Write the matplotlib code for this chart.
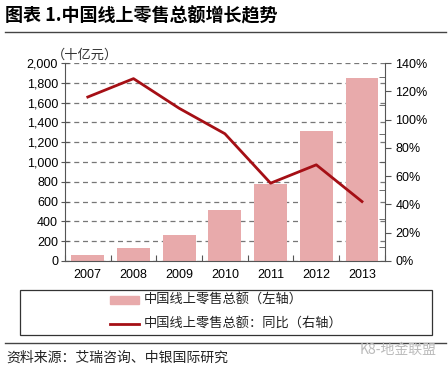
import matplotlib.pyplot as plt
from matplotlib.patches import Rectangle
from matplotlib.lines import Line2D

plt.rcParams['font.family'] = ['Noto Sans CJK SC', 'DejaVu Sans']

years = ['2007', '2008', '2009', '2010', '2011', '2012', '2013']
sales = [55, 130, 263, 510, 780, 1310, 1850]          # 十亿元
growth = [116, 129, 108, 90, 55, 68, 42]              # %

bar_color = '#E8AAAB'
line_color = '#A50F15'

fig = plt.figure(figsize=(4.48, 3.69), dpi=100)
ax = fig.add_axes([0.145, 0.293, 0.714, 0.536])
x = range(len(years))
ax.bar(x, sales, width=0.72, color=bar_color, zorder=2)
ax.set_ylim(0, 2000)
ax.set_xlim(-0.5, 6.5)
ax.set_yticks(range(0, 2001, 200))
ax.set_yticklabels([f'{v:,}' for v in range(0, 2001, 200)], fontsize=9, family='Liberation Sans')
ax.set_xticks([i - 0.5 for i in range(8)], minor=False)
ax.set_xticklabels([])
ax.set_xticks(list(x), minor=True)
ax.set_xticklabels(years, minor=True, fontsize=9, family='Liberation Sans')
ax.tick_params(axis='x', which='minor', length=0, pad=6)
ax.tick_params(axis='x', which='major', direction='in', length=4, color='#555555')
ax.tick_params(axis='y', direction='inout', length=6, color='#555555', pad=2)
ax.yaxis.grid(True, linestyle=(0, (4, 3)), color='#777777', linewidth=0.9, zorder=0)
for s in ['top', 'right']:
    ax.spines[s].set_visible(False)
ax.spines['left'].set_color('#555555')
ax.spines['bottom'].set_color('#555555')

ax2 = ax.twinx()
ax2.plot(x, growth, color=line_color, linewidth=2, zorder=3)
ax2.set_ylim(0, 140)
ax2.set_yticks(range(0, 141, 20))
ax2.set_yticklabels([f'{v}%' for v in range(0, 141, 20)], fontsize=9, family='Liberation Sans')
ax2.set_yticks(range(10, 140, 20), minor=True)
ax2.tick_params(axis='y', which='major', direction='out', length=4, color='#555555')
ax2.tick_params(axis='y', which='minor', direction='in', length=4, color='#555555')
for s in ['top', 'left', 'bottom']:
    ax2.spines[s].set_visible(False)
ax2.spines['right'].set_color('#555555')

fig.text(0.115, 0.833, '（十亿元）', fontsize=9.5, color='#333333', ha='left', va='bottom')

# title and rules
fig.text(0.012, 0.958, '图表 1.中国线上零售总额增长趋势', fontsize=13, fontweight='bold', va='center')
fig.add_artist(Line2D([0.012, 0.995], [0.913, 0.913], color='#444444', linewidth=1))
fig.add_artist(Line2D([0.012, 0.995], [0.07, 0.07], color='#444444', linewidth=1))

# legend box
fig.add_artist(Rectangle((0.045, 0.093), 0.92, 0.122, fill=False, edgecolor='#333333', linewidth=0.9))
fig.add_artist(Rectangle((0.245, 0.176), 0.065, 0.022, color=bar_color))
fig.text(0.32, 0.187, '中国线上零售总额（左轴）', fontsize=9.5, va='center', color='#222222')
fig.add_artist(Line2D([0.245, 0.31], [0.122, 0.122], color=line_color, linewidth=2))
fig.text(0.32, 0.122, '中国线上零售总额：同比（右轴）', fontsize=9.5, va='center', color='#222222')

fig.text(0.015, 0.03, '资料来源：艾瑞咨询、中银国际研究', fontsize=10, style='italic', va='center', color='#222222')
fig.text(0.975, 0.052, 'K8-地金联盟', fontsize=10, color='#bbbbbb', ha='right', va='center')

fig.savefig('out.png', dpi=100)
